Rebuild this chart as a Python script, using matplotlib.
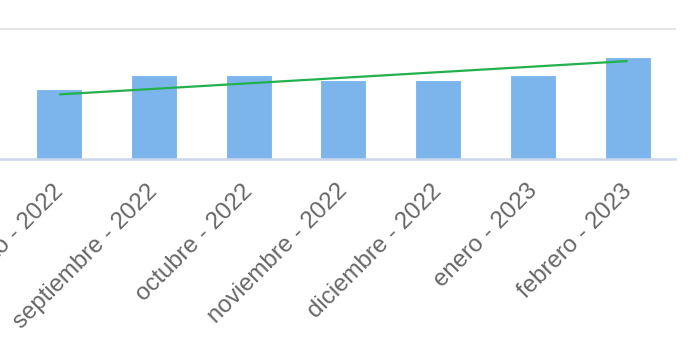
import matplotlib
matplotlib.use("Agg")
import matplotlib.pyplot as plt
import matplotlib.transforms as mtransforms

categories = ["agosto - 2022", "septiembre - 2022", "octubre - 2022", "noviembre - 2022",
              "diciembre - 2022", "enero - 2023", "febrero - 2023"]
values = [54.1, 64.6, 64.6, 60.8, 60.8, 64.6, 78.5]
trend_start = 49.6
trend_end = 75.1
grid_max = 100

W, H = 698, 364
fig = plt.figure(figsize=(W / 100, H / 100), dpi=100)
plt.rcParams['font.family'] = ['Liberation Sans', 'DejaVu Sans']

left = 0 / W
right = 675 / W
bottom = (H - 159.3) / H
top = (H - 28.5) / H
ax = fig.add_axes([left, bottom, right - left, top - bottom])

x = list(range(len(categories)))
ax.bar(x, values, width=0.485, color="#7cb5ec", edgecolor="#ffffff", linewidth=0.8, zorder=2)
ax.plot([x[0], x[-1]], [trend_start, trend_end], color="#22b14c", linewidth=1.6,
        solid_capstyle="butt", zorder=3)

ax.set_xlim(-0.623, 6.5)
ax.set_ylim(0, grid_max)
ax.axhline(grid_max, color="#e6e6e6", linewidth=1.5, zorder=1, clip_on=False)

for s in ["top", "left", "right"]:
    ax.spines[s].set_visible(False)
ax.spines["bottom"].set_color("#ccd6eb")
ax.spines["bottom"].set_linewidth(1.8)
ax.spines["bottom"].set_zorder(4)
ax.set_yticks([])
ax.set_xticks(x)
ax.set_xticklabels(categories, rotation=45, ha="right", va="top",
                   rotation_mode="anchor", color="#666666", fontsize=17.3)
ax.tick_params(axis="x", length=0, pad=15)
offset = mtransforms.ScaledTranslation(-7 / 100, 0, fig.dpi_scale_trans)
for lab in ax.get_xticklabels():
    lab.set_transform(lab.get_transform() + offset)

fig.savefig("out.png", dpi=100)
